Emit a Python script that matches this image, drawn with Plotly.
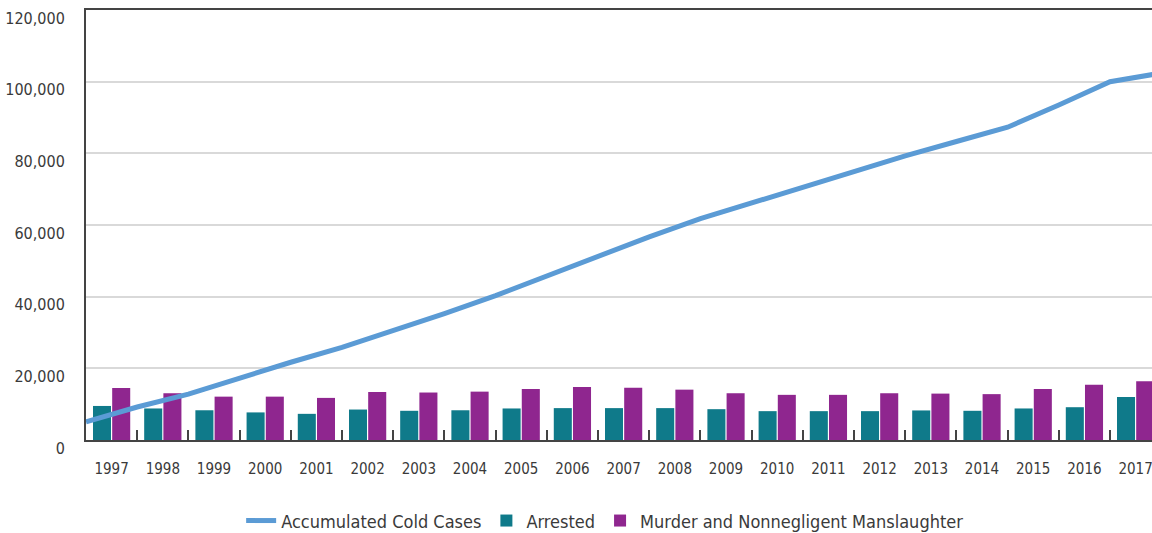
import plotly.graph_objects as go

years = list(range(1997, 2018))
arrested = [9500, 8800, 8300, 7700, 7300, 8500, 8150, 8300, 8800, 8900, 8900,
            8900, 8600, 8050, 8050, 8050, 8250, 8150, 8800, 9150, 12000]
murders = [14500, 13050, 12100, 12100, 11750, 13400, 13250, 13500, 14250, 14800, 14600,
           14050, 13050, 12600, 12600, 13050, 12950, 12800, 14250, 15450, 16400]
# accumulated cold cases at year end (plotted at the year boundaries)
cold_years = list(range(1996, 2018))
cold_cases = [5080, 9200, 12800, 17300, 21700, 25850, 30400, 35300, 40300, 45750, 51200,
              56700, 61750, 66150, 70550, 74950, 79300, 83300, 87300, 93500, 100000, 102400]
y_ticks = [0, 20000, 40000, 60000, 80000, 100000, 120000]
y_tick_text = ["0", "20,000", "40,000", "60,000", "80,000", "100,000", "120,000"]

FONT = "Liberation Sans Narrow, DejaVu Sans Condensed, Arial Narrow, Roboto, sans-serif"
TXT = "#3a3a3a"
XR = [1996.5, 2017.32]

fig = go.Figure()
fig.add_trace(go.Bar(x=years, y=arrested, name="Arrested", marker_color="#0f7a8a",
                     marker_line_width=0, legendrank=2))
fig.add_trace(go.Bar(x=years, y=murders, name="Murder and Nonnegligent Manslaughter",
                     marker_color="#8f268f", marker_line_width=0, legendrank=3))
fig.add_trace(go.Scatter(x=[y + 0.5 for y in cold_years], y=cold_cases, xaxis="x2",
                         mode="lines", name="Accumulated Cold Cases",
                         line=dict(color="#5b9bd5", width=5), legendrank=1))

fig.update_layout(
    width=1152, height=533,
    margin=dict(l=86, r=0, t=10, b=93, autoexpand=False),
    paper_bgcolor="white", plot_bgcolor="white",
    font=dict(family=FONT, size=18, color=TXT),
    barmode="group", bargap=0.25, bargroupgap=0.06,
    showlegend=True,
    legend=dict(orientation="h", x=0.487, xanchor="center", y=-0.188, yanchor="middle",
                font=dict(size=18, color=TXT), tracegroupgap=0,
                bgcolor="rgba(0,0,0,0)"),
    xaxis=dict(range=XR, tickmode="array", tickvals=years, ticktext=[str(y) for y in years],
               ticks="", showgrid=False, showline=True, linecolor="#444", linewidth=2,
               mirror=True, ticklabelstandoff=14, ticklabeloverflow="allow",
               automargin=False, tickfont=dict(size=15, color=TXT)),
    xaxis2=dict(range=XR, overlaying="x", anchor="y", side="bottom",
                tickmode="array", tickvals=[y + 0.5 for y in years[:-1]],
                ticks="inside", ticklen=10, tickwidth=2, tickcolor="#444",
                showticklabels=False, showgrid=False, showline=False, zeroline=False),
    yaxis=dict(range=[0, 120000], tickmode="array", tickvals=y_ticks, ticktext=y_tick_text,
               showgrid=True, gridcolor="#d9d9d9", gridwidth=2, zeroline=False,
               showline=True, linecolor="#444", linewidth=2, ticks="",
               ticklabelstandoff=16, ticklabelshift=8, ticklabeloverflow="allow",
               automargin=False, tickfont=dict(size=16, color=TXT)),
)

fig.write_html("out.html")
